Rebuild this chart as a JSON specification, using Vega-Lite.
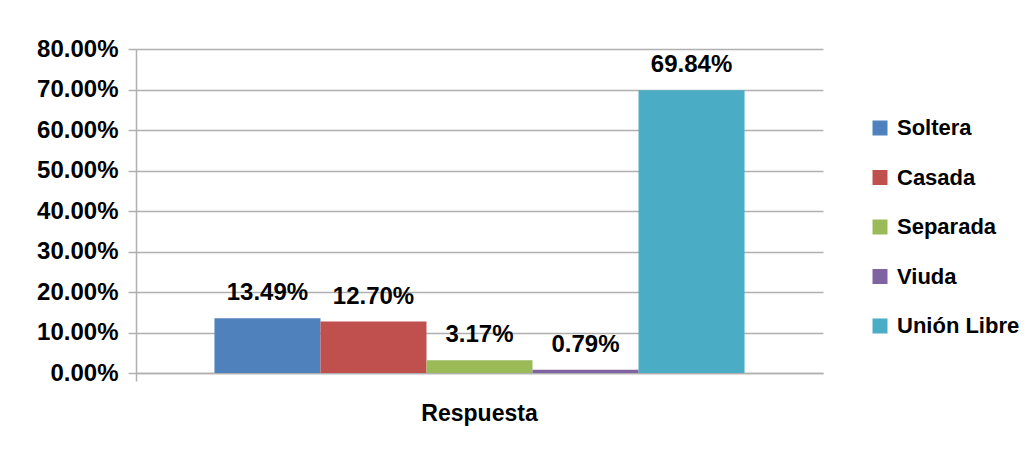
{
  "$schema": "https://vega.github.io/schema/vega-lite/v6.json",
  "autosize": "none",
  "width": 687,
  "height": 324,
  "padding": {"left": 136, "top": 49, "right": 213, "bottom": 80},
  "background": "white",
  "config": {
    "font": "Liberation Sans",
    "view": {"stroke": null}
  },
  "data": {
    "values": [
      {"grupo": "Respuesta", "estado": "Soltera", "valor": 0.1349},
      {"grupo": "Respuesta", "estado": "Casada", "valor": 0.1270},
      {"grupo": "Respuesta", "estado": "Separada", "valor": 0.0317},
      {"grupo": "Respuesta", "estado": "Viuda", "valor": 0.0079},
      {"grupo": "Respuesta", "estado": "Unión Libre", "valor": 0.6984}
    ]
  },
  "encoding": {
    "x": {
      "field": "grupo", "type": "nominal",
      "scale": {"paddingInner": 0, "paddingOuter": 0},
      "axis": {
        "title": null, "labelAngle": 0, "labelFontSize": 23, "labelFontWeight": "bold",
        "labelColor": "black", "labelPadding": 21, "ticks": true, "tickSize": 8,
        "bandPosition": 0, "tickColor": "#b0b0b0", "tickWidth": 1.5,
        "domainColor": "#b0b0b0", "domainWidth": 1.5, "grid": false
      }
    },
    "xOffset": {
      "field": "estado", "type": "nominal",
      "sort": ["Soltera", "Casada", "Separada", "Viuda", "Unión Libre"],
      "scale": {"paddingInner": 0, "paddingOuter": 0.74}
    },
    "y": {
      "field": "valor", "type": "quantitative",
      "scale": {"domain": [0, 0.8], "nice": false},
      "axis": {
        "title": null, "format": ".2%", "values": [0, 0.1, 0.2, 0.3, 0.4, 0.5, 0.6, 0.7, 0.8],
        "labelFontSize": 24, "labelFontWeight": "bold", "labelColor": "black",
        "labelPadding": 10, "tickSize": 8, "tickColor": "#b0b0b0", "tickWidth": 1.5,
        "domainColor": "#b0b0b0", "domainWidth": 1.5,
        "grid": true, "gridColor": "#b0b0b0", "gridWidth": 1.5
      }
    }
  },
  "layer": [
    {
      "mark": {"type": "bar"},
      "encoding": {
        "color": {
          "field": "estado", "type": "nominal",
          "sort": ["Soltera", "Casada", "Separada", "Viuda", "Unión Libre"],
          "scale": {
            "domain": ["Soltera", "Casada", "Separada", "Viuda", "Unión Libre"],
            "range": ["#4F81BD", "#C0504D", "#9BBB59", "#8064A2", "#4BACC6"]
          },
          "legend": {
            "title": null, "orient": "none", "legendX": 733, "legendY": 68,
            "symbolType": "square", "symbolSize": 225, "symbolStrokeWidth": 0,
            "labelFontSize": 22, "labelFontWeight": "bold", "labelColor": "black",
            "rowPadding": 27.5, "labelOffset": 6
          }
        }
      }
    },
    {
      "mark": {"type": "text", "baseline": "bottom", "dy": -13, "fontSize": 24, "fontWeight": "bold", "color": "black"},
      "encoding": {
        "text": {"field": "valor", "type": "quantitative", "format": ".2%"}
      }
    }
  ]
}
